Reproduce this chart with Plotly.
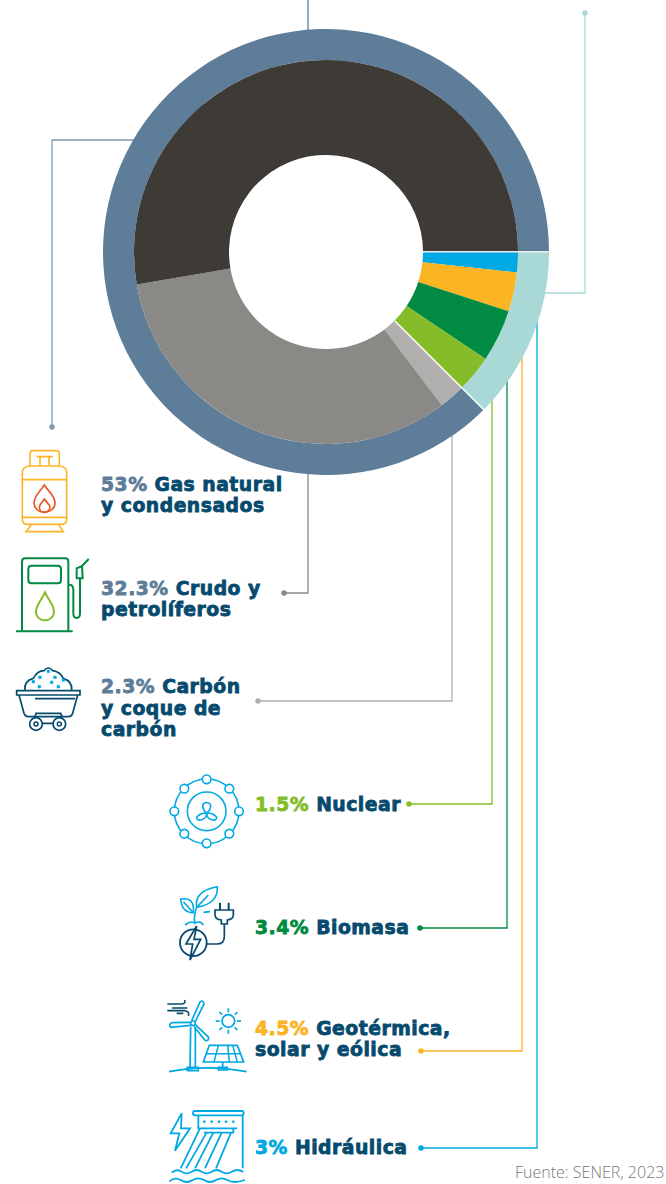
import re
import plotly.graph_objects as go

# ---- data ----
ring_names = ["Hidráulica", "Geotérmica, solar y eólica", "Biomasa", "Nuclear",
              "Carbón y coque de carbón", "Crudo y petrolíferos", "Gas natural y condensados"]
ring_values = [1.7, 3.3, 4.4, 3.1, 2.2, 32.6, 52.7]
ring_colors = ["#00a8e4", "#fbb424", "#008a42", "#84bd29", "#b0afae", "#8a8985", "#3e3a35"]
outer_names = ["Renovables y nuclear", "Fósiles"]
outer_values = [12.5, 87.5]
outer_colors = ["#a9d9d7", "#5d7d99"]

NAVY = "#064a6e"
SLATE = "#5d7d99"
label_lines = [
    # x, y, percent, percent colour, rest of the line
    (101, 484, "53%", SLATE, " Gas natural"),
    (101, 505, "", SLATE, "y condensados"),
    (101, 588, "32.3%", SLATE, " Crudo y"),
    (101, 609, "", SLATE, "petrolíferos"),
    (101, 686, "2.3%", SLATE, " Carbón"),
    (101, 708, "", SLATE, "y coque de"),
    (101, 729, "", SLATE, "carbón"),
    (255, 804, "1.5%", "#84bd29", " Nuclear"),
    (255, 927, "3.4%", "#008a42", " Biomasa"),
    (255, 1028, "4.5%", "#fbb424", " Geotérmica,"),
    (255, 1049, "", "#fbb424", "solar y eólica"),
    (255, 1147, "3%", "#00a8e4", " Hidráulica"),
]
leaders = [
    ("#5d7d99", [(308, 0), (308, 32)], None),
    ("#7f9cb3", [(135, 140), (52, 140), (52, 427)], (52, 427)),
    ("#8a8985", [(308, 470), (308, 593), (284, 593)], (284, 593)),
    ("#b0afae", [(452, 400), (452, 701), (258, 701)], (258, 701)),
    ("#84bd29", [(492, 395), (492, 804), (409, 804)], (409, 804)),
    ("#008a42", [(507, 380), (507, 928), (420, 928)], (420, 928)),
    ("#fbb424", [(522, 350), (522, 1051), (421, 1051)], (421, 1051)),
    ("#00a8e4", [(537, 320), (537, 1148), (421, 1148)], (421, 1148)),
    ("#a9d9d7", [(585, 13), (585, 293), (540, 293)], (585, 13)),
]

W, H = 666, 1184
CX, CY, R_OUT, R_MID, R_HOLE = 326, 252, 223, 192, 97
shapes = []


def z(ox, oy, d):
    """Path written in 3x crop coordinates -> page pixels."""
    i = [0]
    def rep(m):
        v = float(m.group())
        o = ox if i[0] % 2 == 0 else oy
        i[0] += 1
        return f"{o + v / 3:.2f}"
    return re.sub(r"-?\d+(\.\d+)?", rep, d).replace("M", "M ").replace("L", " L ").replace("Q", " Q ").replace("C", " C ")


def P(ox, oy, d, color, w=1.6, fill=None):
    shapes.append(dict(type="path", xref="x", yref="y", layer="above", path=z(ox, oy, d),
                       line=dict(color=color, width=w),
                       fillcolor=fill or "rgba(0,0,0,0)"))


def O(ox, oy, cx, cy, r, color, w=1.6, fill=None):
    shapes.append(dict(type="circle", xref="x", yref="y", layer="above",
                       x0=ox + (cx - r) / 3, x1=ox + (cx + r) / 3,
                       y0=oy + (cy - r) / 3, y1=oy + (cy + r) / 3,
                       line=dict(color=color, width=w),
                       fillcolor=fill or "rgba(0,0,0,0)"))


GOLD, GREEN, LIME, BLUE, FLAME = "#fbb424", "#008a42", "#84bd29", "#00a8e4", "#e8541e"
# --- gas cylinder
a, b = 0, 430
P(a, b, "M90 108 L90 72 Q90 62 100 62 L168 62 Q178 62 178 72 L178 108", GOLD)
P(a, b, "M110 80 L158 80 M120 80 L120 106 M147 80 L147 106", GOLD)
P(a, b, "M90 108 L178 108 Q200 110 200 128 L200 268 Q200 283 185 283 L82 283 Q67 283 67 268 L67 128 Q67 110 90 108 Z", GOLD)
P(a, b, "M67 149 L200 149 M67 262 L200 262", GOLD)
P(a, b, "M95 283 L78 305 L190 305 L175 283", GOLD)
P(a, b, "M133 165 C120 185 102 198 102 218 C102 236 116 247 133 247 C150 247 165 236 165 218 C165 198 146 185 133 165 Z", FLAME)
P(a, b, "M133 207 C126 218 118 224 118 232 C118 241 125 247 133 247 C141 247 150 241 150 232 C150 224 140 218 133 207 Z", FLAME)
# --- fuel pump
P(a, b, "M48 604 L218 604", GREEN, 2)
P(a, b, "M66 604 L66 395 Q66 385 76 385 L195 385 Q205 385 205 395 L205 604", GREEN, 2)
P(a, b, "M95 407 L173 407 Q183 407 183 417 L183 450 Q183 460 173 460 L95 460 Q85 460 85 450 L85 417 Q85 407 95 407 Z", GREEN, 2)
P(a, b, "M135 487 C125 510 108 525 108 545 C108 560 120 571 135 571 C150 571 162 560 162 545 C162 525 145 510 135 487 Z", LIME, 2)
P(a, b, "M205 465 Q220 462 220 480 L220 550 Q220 564 230 564 Q240 564 240 550 L240 445", GREEN, 2)
P(a, b, "M230 445 L230 415 L246 408 L248 445 Z", GREEN, 2)
P(a, b, "M246 408 L266 387", GREEN, 2)
# --- mine cart
P(a, b, "M75 780 Q72 752 100 745 Q112 722 132 722 Q145 706 158 722 Q180 725 190 745 Q218 755 215 780", NAVY, 1.7)
for sx, sy in [(145, 724), (120, 742), (100, 755), (165, 742), (190, 750), (155, 757), (118, 770), (175, 770)]:
    P(a, b, f"M{sx-4} {sy-4} L{sx+4} {sy-4} L{sx+4} {sy+4} L{sx-4} {sy+4} Z", BLUE, 0.5, BLUE)
P(a, b, "M50 782 L240 782 L240 795 L50 795 Z", NAVY, 1.7)
P(a, b, "M57 795 L72 850 Q75 860 85 860 L205 860 Q215 860 218 850 L233 795", NAVY, 1.7)
P(a, b, "M105 806 L225 806", NAVY, 1.7)
P(a, b, "M105 860 L108 850 L182 850 L186 860 M126 880 L160 880", NAVY, 1.7)
for cx in (108, 178):
    O(a, b, cx, 882, 19, NAVY, 1.7)
    O(a, b, cx, 882, 6, NAVY, 1.5)
# --- nuclear
a, b = 150, 760
O(a, b, 170, 154, 97, BLUE)
O(a, b, 170, 154, 58, BLUE)
for cx, cy in [(170, 58), (170, 250), (73, 154), (267, 154), (103, 86), (238, 86), (103, 221), (238, 221)]:
    O(a, b, cx, cy, 13, BLUE, 1.6, "#ffffff")
P(a, b, "M170 160 C158 150 155 135 162 130 Q170 125 178 130 C185 135 182 150 170 160 Z", BLUE)
P(a, b, "M170 160 C155 158 145 165 140 172 Q140 182 152 180 C165 178 170 172 170 160 Z", BLUE)
P(a, b, "M170 160 C185 158 195 165 200 172 Q200 182 188 180 C175 178 170 172 170 160 Z", BLUE)
# --- biomass
P(a, b, "M140 442 Q132 392 202 380 Q205 432 140 442 Z", BLUE)
P(a, b, "M140 442 L175 405", BLUE)
P(a, b, "M92 417 Q135 410 130 458 Q95 458 92 417 Z", BLUE)
P(a, b, "M100 425 L130 458", BLUE)
P(a, b, "M135 490 Q130 470 140 442 M105 495 Q125 480 135 490 Q150 480 160 495 M160 457 L180 455", BLUE)
P(a, b, "M210 428 L210 450 M236 428 L236 450", NAVY, 2)
P(a, b, "M195 450 L250 450 L250 466 Q250 478 232 480 L232 492 L214 492 L214 480 Q197 478 195 466 Z", NAVY, 1.7)
P(a, b, "M223 492 L223 530 Q223 552 200 552 L170 552", NAVY, 1.7)
O(a, b, 130, 548, 40, NAVY, 1.8)
P(a, b, "M140 498 L108 552 L128 552 L120 600 L152 538 L132 538 Z", NAVY, 1.7, "#ffffff")
# --- wind + solar
a, b = 150, 980
P(a, b, "M52 72 L95 72 Q108 70 104 60 M66 84 L112 84 M52 92 L105 92 Q120 95 115 108 M80 100 L100 100", NAVY, 1.6)
P(a, b, "M122 140 L120 265 M136 140 L136 265", BLUE, 1.7)
O(a, b, 129, 130, 7, BLUE, 1.7)
P(a, b, "M125 122 L150 66 Q160 58 162 72 L136 124", BLUE, 1.7)
P(a, b, "M122 127 L65 128 Q55 134 62 142 L122 136", BLUE, 1.7)
P(a, b, "M136 134 L176 172 Q176 186 164 180 L133 140", BLUE, 1.7)
P(a, b, "M57 275 Q170 252 290 275", BLUE, 1.7)
P(a, b, "M112 262 L145 262 L145 272 L112 272 Z M205 262 L232 262 L232 270 L205 270 Z M218 246 L218 262", BLUE, 1.7)
O(a, b, 235, 123, 19, BLUE, 1.7)
for x0, y0, x1, y1 in [(235, 85, 235, 97), (235, 149, 235, 161), (197, 123, 209, 123), (261, 123, 273, 123),
                       (208, 96, 216, 104), (254, 142, 262, 150), (208, 150, 216, 142), (254, 104, 262, 96)]:
    P(a, b, f"M{x0} {y0} L{x1} {y1}", BLUE, 1.7)
P(a, b, "M178 196 L262 196 L281 246 L160 246 Z", BLUE, 1.7)
P(a, b, "M170 221 L272 221 M205 196 L192 246 M233 196 L238 246 M248 196 L262 246", BLUE, 1.5)
# --- hydro
P(a, b, "M135 393 L275 393 Q281 393 281 400 Q281 406 275 406 L135 406 Q129 406 129 400 Q129 393 135 393 Z", BLUE, 1.8)
P(a, b, "M145 406 L145 445 L250 445 L250 458 L162 458 M278 406 L278 565 M262 445 L250 445", BLUE, 1.8)
for cx in (163, 185, 207, 228, 250):
    O(a, b, cx, 425, 3, BLUE, 0.8, BLUE)
P(a, b, "M150 445 L92 565 M170 458 L108 565 M190 458 L135 565 M215 458 L165 565 M243 458 L198 565", BLUE, 1.8)
P(a, b, "M95 400 L62 460 L88 460 L75 512 L120 445 L93 445 Z", BLUE, 1.8)
P(a, b, "M65 578 Q80 565 95 575 Q110 585 125 575 Q140 565 155 575 Q170 585 185 575 Q200 565 215 575 Q230 585 245 575 Q262 565 280 575", BLUE, 1.8)
P(a, b, "M58 604 Q75 590 92 600 Q110 612 128 600 Q145 590 162 600 Q180 612 198 600 Q215 590 232 600 Q250 612 285 600", BLUE, 1.8)

# --- leader lines (under the rings)
for color, pts, _ in leaders:
    d = "M" + " L".join(f"{x} {y}" for x, y in pts)
    shapes.append(dict(type="path", xref="x", yref="y", layer="below", path=d,
                       line=dict(color=color, width=1.3), fillcolor="rgba(0,0,0,0)"))

fig = go.Figure()

# dots at the ends of the leaders
dots = [(c, e) for c, _, e in leaders if e]
fig.add_trace(go.Scatter(x=[e[0] for _, e in dots], y=[e[1] for _, e in dots], mode="markers",
                         marker=dict(size=5.5, color=[c for c, _ in dots]),
                         hoverinfo="skip", showlegend=False))


def dom_x(r):
    return [(CX - r) / W, (CX + r) / W]


def dom_y(r):
    return [1 - (CY + r) / H, 1 - (CY - r) / H]


fig.add_trace(go.Pie(labels=outer_names, values=outer_values, sort=False, direction="clockwise",
                     rotation=90, hole=R_MID / R_OUT, textinfo="none", showlegend=False,
                     marker=dict(colors=outer_colors, line=dict(width=0)),
                     domain=dict(x=dom_x(R_OUT), y=dom_y(R_OUT))))
fig.add_trace(go.Pie(labels=ring_names, values=ring_values, sort=False, direction="clockwise",
                     rotation=90, hole=R_HOLE / R_MID, textinfo="none", showlegend=False,
                     marker=dict(colors=ring_colors, line=dict(width=0)),
                     domain=dict(x=dom_x(R_MID), y=dom_y(R_MID))))

# white seams
shapes.append(dict(type="line", xref="x", yref="y", layer="above", x0=CX + R_HOLE, x1=CX + R_OUT, y0=CY - 0.3, y1=CY - 0.3,
                   line=dict(color="#eeeeee", width=1.5)))
shapes.append(dict(type="line", xref="x", yref="y", layer="above", x0=395, y0=321, x1=CX + 158, y1=CY + 158,
                   line=dict(color="#ffffff", width=1.5)))

TEXT_FONT = dict(family="DejaVu Sans", size=18.8, color=NAVY, weight=700)


def heavy(text, col):
    return f'<span style="color:{col};stroke:{col};stroke-width:0.8px;letter-spacing:0.5px">{text}</span>'


ann = []
for x, y, pct, col, rest in label_lines:
    t = (heavy(pct, col) if pct else "") + heavy(rest, NAVY)
    ann.append(dict(x=x, y=y, xref="x", yref="y", xanchor="left", yanchor="middle", text=t,
                    showarrow=False, align="left", font=TEXT_FONT, borderpad=0, borderwidth=0))
ann.append(dict(x=664.5, y=1184, xref="x", yref="y", xanchor="right", yanchor="bottom",
                text="Fuente: SENER, 2023", showarrow=False,
                font=dict(family="Open Sans", size=16, color="#777777", weight=300), borderpad=0))

fig.update_layout(
    width=W, height=H, margin=dict(l=0, r=0, t=0, b=0, pad=0),
    paper_bgcolor="#ffffff", plot_bgcolor="#ffffff", showlegend=False,
    xaxis=dict(range=[0, W], visible=False, fixedrange=True, domain=[0, 1]),
    yaxis=dict(range=[H, 0], visible=False, fixedrange=True, domain=[0, 1]),
    shapes=shapes, annotations=ann,
)
fig.write_html("out.html", config=dict(displayModeBar=False),
               post_script="document.body.style.margin='0';document.body.style.overflow='hidden';")
